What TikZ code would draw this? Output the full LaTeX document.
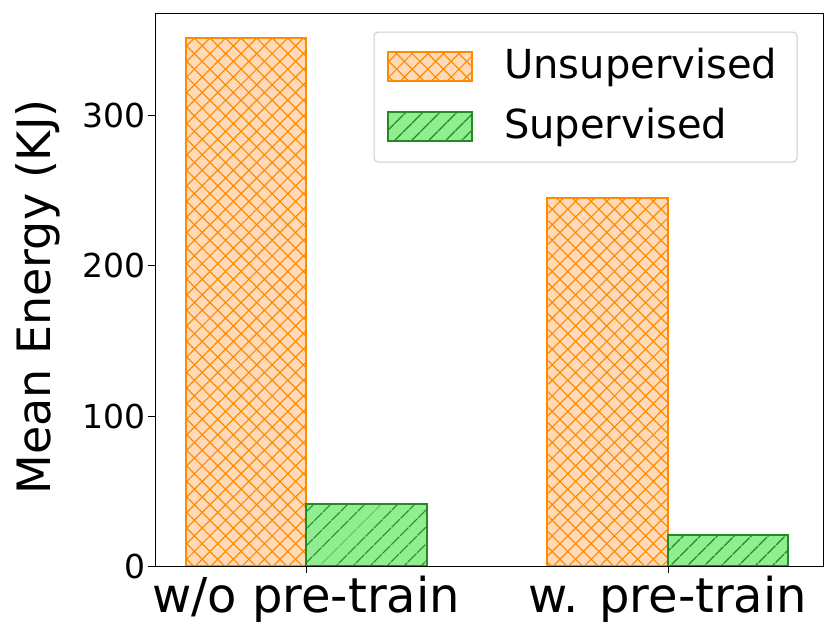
\documentclass[tikz,border=0pt]{standalone}
\usepackage{fontspec}
\setmainfont{DejaVu Sans}
\usetikzlibrary{patterns.meta}
\definecolor{og}{RGB}{255,140,0}
\definecolor{ofill}{RGB}{255,218,185}
\definecolor{gg}{RGB}{34,139,34}
\definecolor{gfill}{RGB}{144,238,144}
\tikzset{
 unsup/.style={draw=og,line width=1.3pt,fill=ofill,postaction={pattern={Lines[angle=45,distance=11pt,line width=1.2pt]},pattern color=og},postaction={pattern={Lines[angle=-45,distance=11pt,line width=1.2pt]},pattern color=og}},
 sup/.style={draw=gg,line width=1.3pt,fill=gfill,postaction={pattern={Lines[angle=45,distance=13pt,line width=1.5pt]},pattern color=gg}},
 tick/.style={font=\fontsize{33}{35}\selectfont},
}
\begin{document}
\begin{tikzpicture}[x=1pt,y=-1pt]
\useasboundingbox (0,0) rectangle (830,637);
\path[unsup] (186,566) rectangle (306,38);
\path[sup] (306,566) rectangle (427,504);
\path[unsup] (547,566) rectangle (668,198);
\path[sup] (668,566) rectangle (788,535);
\draw[line width=1pt] (155,13) rectangle (823,566);
\foreach \v/\y in {0/566,100/416,200/265,300/115}{
 \draw[line width=1pt] (155,\y) -- (148,\y);
 \node[tick,anchor=east,inner sep=0pt] (t\v) at (146,\y) {\v};
}
\foreach \x in {306,668}{\draw[line width=1pt] (\x,566) -- (\x,573);}
\node[font=\fontsize{48}{50}\selectfont,anchor=north,inner sep=0pt] (x1) at (306,576) {w/o pre-train};
\node[font=\fontsize{48}{50}\selectfont,anchor=north,inner sep=0pt] (x2) at (668,576) {w. pre-train};
\node[font=\fontsize{46}{48}\selectfont,rotate=90] (yl) at (38,297) {Mean Energy (KJ)};
\draw[rounded corners=4pt,draw=black!20,fill=white,fill opacity=0.8,line width=1pt] (374,32) rectangle (797,162);
\path[unsup] (388,52) rectangle (472,81);
\path[sup] (388,112) rectangle (472,141);
\node[font=\fontsize{40}{42}\selectfont,anchor=west,inner sep=0pt] (l1) at (504,67) {Unsupervised};
\node[font=\fontsize{40}{42}\selectfont,anchor=west,inner sep=0pt] (l2) at (504,127) {Supervised};
\end{tikzpicture}
\end{document}
